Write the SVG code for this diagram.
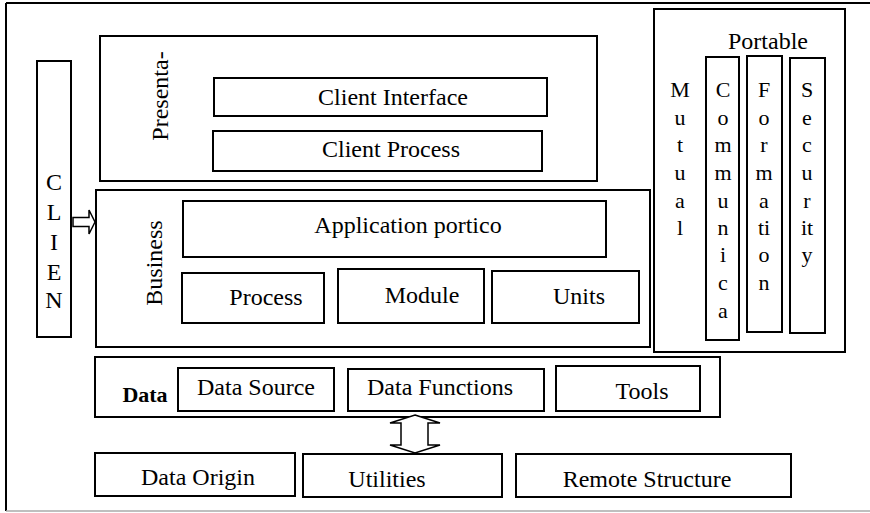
<svg xmlns="http://www.w3.org/2000/svg" width="870" height="513" viewBox="0 0 870 513">
<style>
.b{fill:#fff;stroke:#000;stroke-width:2}
.t{font-family:"Liberation Serif","Times New Roman",serif;font-size:24px;fill:#000;text-anchor:middle}
.c{font-family:"Liberation Serif","Times New Roman",serif;font-size:22px;fill:#000;text-anchor:middle}
.a{fill:#fff;stroke:#000;stroke-width:1.5;stroke-linejoin:miter}
</style>
<rect width="870" height="513" fill="#fff"/>
<g id="frame">
<line x1="6" y1="3" x2="870" y2="3" stroke="#000" stroke-width="2"/>
<line x1="6" y1="3" x2="6" y2="511" stroke="#000" stroke-width="2"/>
<line x1="6" y1="511" x2="870" y2="511" stroke="#aaa" stroke-width="1.5"/>
</g>
<g id="presentation">
<rect class="b" x="100" y="36" width="497" height="145"/>
<text class="t" transform="translate(168,96) rotate(-90)">Presenta-</text>
</g>
<g id="client-interface">
<rect class="b" x="214" y="78" width="333" height="38"/>
<text class="t" x="393" y="105">Client Interface</text>
</g>
<g id="client-process">
<rect class="b" x="213" y="131" width="329" height="40"/>
<text class="t" x="391" y="157">Client Process</text>
</g>
<g id="client">
<rect class="b" x="37" y="61" width="34" height="276"/>
<text class="t" x="54" y="190">C</text>
<text class="t" x="54" y="220">L</text>
<text class="t" x="54" y="250">I</text>
<text class="t" x="54" y="280">E</text>
<text class="t" x="54" y="308">N</text>
</g>
<g id="business">
<rect class="b" x="96" y="190" width="554" height="157"/>
<text class="t" transform="translate(162,263) rotate(-90)">Business</text>
</g>
<g id="application-portico">
<rect class="b" x="183" y="201" width="423" height="56"/>
<text class="t" x="408" y="233">Application portico</text>
</g>
<g id="process">
<rect class="b" x="182" y="273" width="142" height="50"/>
<text class="t" x="266" y="305">Process</text>
</g>
<g id="module">
<rect class="b" x="338" y="269" width="146" height="54"/>
<text class="t" x="422" y="303">Module</text>
</g>
<g id="units">
<rect class="b" x="492" y="271" width="147" height="52"/>
<text class="t" x="579" y="304">Units</text>
</g>
<g id="portable">
<rect class="b" x="654" y="9" width="191" height="343"/>
<text class="t" x="768" y="49">Portable</text>
</g>
<g id="mutual">
<text class="c" x="680" y="97">M</text>
<text class="c" x="680" y="125">u</text>
<text class="c" x="680" y="152">t</text>
<text class="c" x="680" y="180">u</text>
<text class="c" x="680" y="208">a</text>
<text class="c" x="680" y="235">l</text>
</g>
<g id="communica">
<rect class="b" x="706" y="57" width="33" height="283"/>
<text class="c" x="723" y="97">C</text>
<text class="c" x="723" y="125">o</text>
<text class="c" x="723" y="152">m</text>
<text class="c" x="723" y="180">m</text>
<text class="c" x="723" y="208">u</text>
<text class="c" x="723" y="235">n</text>
<text class="c" x="723" y="262">i</text>
<text class="c" x="723" y="290">c</text>
<text class="c" x="723" y="318">a</text>
</g>
<g id="formation">
<rect class="b" x="747" y="56" width="35" height="276"/>
<text class="c" x="764" y="97">F</text>
<text class="c" x="764" y="125">o</text>
<text class="c" x="764" y="152">r</text>
<text class="c" x="764" y="180">m</text>
<text class="c" x="764" y="208">a</text>
<text class="c" x="764" y="235">ti</text>
<text class="c" x="764" y="262">o</text>
<text class="c" x="764" y="290">n</text>
</g>
<g id="security">
<rect class="b" x="790" y="58" width="35" height="275"/>
<text class="c" x="807" y="97">S</text>
<text class="c" x="807" y="125">e</text>
<text class="c" x="807" y="152">c</text>
<text class="c" x="807" y="180">u</text>
<text class="c" x="807" y="208">r</text>
<text class="c" x="807" y="235">it</text>
<text class="c" x="807" y="262">y</text>
</g>
<g id="data">
<rect class="b" x="95" y="357" width="625" height="60"/>
<text class="t" x="145" y="402" style="font-weight:bold;font-size:22px">Data</text>
</g>
<g id="data-source">
<rect class="b" x="178" y="368" width="156" height="43"/>
<text class="t" x="256" y="395">Data Source</text>
</g>
<g id="data-functions">
<rect class="b" x="348" y="369" width="196" height="42"/>
<text class="t" x="440" y="395">Data Functions</text>
</g>
<g id="tools">
<rect class="b" x="556" y="366" width="144" height="45"/>
<text class="t" x="642" y="399">Tools</text>
</g>
<g id="data-origin">
<rect class="b" x="95" y="453" width="200" height="43"/>
<text class="t" x="198" y="485">Data Origin</text>
</g>
<g id="utilities">
<rect class="b" x="303" y="454" width="199" height="43"/>
<text class="t" x="387" y="487">Utilities</text>
</g>
<g id="remote-structure">
<rect class="b" x="516" y="454" width="275" height="43"/>
<text class="t" x="647" y="487">Remote Structure</text>
</g>
<g id="connectors">
<polygon class="a" points="73,217.5 89,217.5 89,210 95,222 89,234 89,226.5 73,226.5"/>
<polygon class="a" points="415,415 440,423 428,423 428,445 440,445 415,453 390,445 401,445 401,423 390,423"/>
</g>
</svg>
